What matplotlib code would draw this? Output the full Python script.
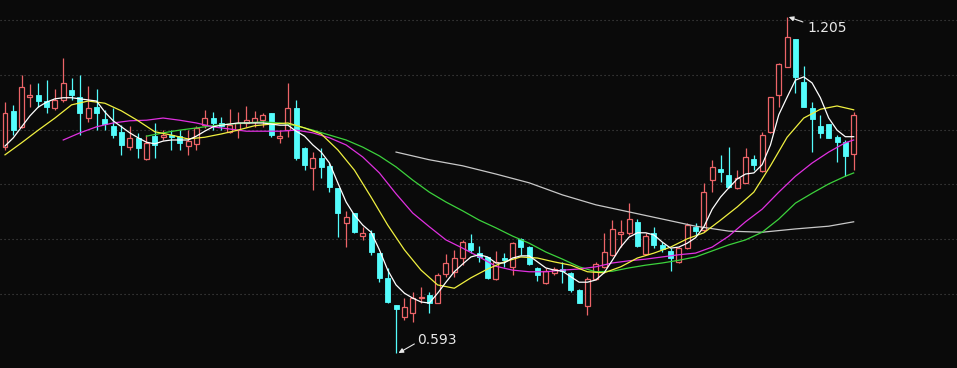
import matplotlib
matplotlib.use('Agg')
import matplotlib.pyplot as plt
from matplotlib.patches import Rectangle

opens = [0.968, 1.034, 1.005, 1.059, 1.063, 1.052, 1.039, 1.054, 1.072, 1.059,
         1.021, 1.041, 1.019, 1.007, 0.996, 0.968, 0.985, 0.946, 0.988, 0.987,
         0.990, 0.988, 0.970, 0.974, 1.008, 1.021, 1.012, 0.996, 0.999, 1.012,
         1.014, 1.017, 1.030, 0.985, 0.999, 1.039, 0.966, 0.930, 0.948, 0.934,
         0.894, 0.830, 0.848, 0.806, 0.812, 0.775, 0.730, 0.681, 0.659, 0.666,
         0.693, 0.699, 0.684, 0.737, 0.741, 0.766, 0.793, 0.775, 0.768, 0.728,
         0.766, 0.750, 0.801, 0.786, 0.748, 0.721, 0.739, 0.746, 0.739, 0.708,
         0.679, 0.728, 0.750, 0.772, 0.810, 0.812, 0.832, 0.773, 0.812, 0.790,
         0.779, 0.759, 0.784, 0.823, 0.817, 0.908, 0.928, 0.917, 0.894, 0.903,
         0.946, 0.925, 0.996, 1.063, 1.114, 1.165, 1.087, 1.039, 1.007, 1.010,
         0.987, 0.977, 0.955]
highs = [1.050, 1.045, 1.099, 1.083, 1.085, 1.090, 1.074, 1.130, 1.094, 1.099,
         1.079, 1.074, 1.036, 1.039, 1.008, 1.007, 0.994, 0.990, 1.012, 0.999,
         0.999, 0.999, 0.999, 1.007, 1.036, 1.032, 1.023, 1.038, 1.032, 1.043,
         1.034, 1.030, 1.030, 0.999, 1.085, 1.054, 0.968, 0.959, 0.966, 0.939,
         0.894, 0.852, 0.848, 0.823, 0.817, 0.775, 0.748, 0.681, 0.693, 0.704,
         0.713, 0.704, 0.739, 0.773, 0.781, 0.799, 0.810, 0.788, 0.768, 0.779,
         0.775, 0.795, 0.803, 0.788, 0.750, 0.748, 0.750, 0.759, 0.741, 0.710,
         0.732, 0.759, 0.812, 0.835, 0.835, 0.866, 0.837, 0.812, 0.823, 0.795,
         0.784, 0.786, 0.830, 0.830, 0.903, 0.945, 0.954, 0.968, 0.926, 0.966,
         0.954, 0.996, 1.059, 1.121, 1.205, 1.165, 1.116, 1.050, 1.027, 1.010,
         0.990, 0.981, 1.032]
lows = [0.963, 0.990, 1.003, 1.041, 1.041, 1.030, 1.036, 1.050, 1.054, 0.990,
        1.014, 0.999, 0.999, 0.985, 0.954, 0.963, 0.948, 0.945, 0.948, 0.981,
        0.963, 0.963, 0.954, 0.963, 1.003, 0.999, 0.999, 0.994, 0.985, 1.005,
        1.005, 1.005, 0.987, 0.976, 0.987, 0.945, 0.926, 0.890, 0.912, 0.886,
        0.804, 0.786, 0.812, 0.799, 0.772, 0.722, 0.684, 0.593, 0.653, 0.650,
        0.684, 0.666, 0.684, 0.732, 0.732, 0.753, 0.775, 0.759, 0.728, 0.726,
        0.750, 0.735, 0.772, 0.753, 0.724, 0.719, 0.735, 0.721, 0.704, 0.684,
        0.662, 0.726, 0.748, 0.770, 0.786, 0.808, 0.786, 0.772, 0.784, 0.777,
        0.742, 0.757, 0.782, 0.808, 0.813, 0.886, 0.905, 0.894, 0.892, 0.903,
        0.926, 0.923, 0.994, 1.041, 1.114, 1.067, 1.041, 0.959, 0.985, 0.985,
        0.941, 0.915, 0.926]
closes = [1.030, 0.999, 1.078, 1.063, 1.052, 1.041, 1.054, 1.085, 1.063, 1.030,
          1.039, 1.030, 1.010, 0.990, 0.972, 0.985, 0.966, 0.976, 0.972, 0.990,
          0.987, 0.976, 0.979, 1.003, 1.021, 1.012, 1.007, 1.008, 1.012, 1.017,
          1.021, 1.027, 0.990, 0.988, 1.039, 0.948, 0.936, 0.948, 0.932, 0.895,
          0.848, 0.841, 0.813, 0.812, 0.777, 0.730, 0.686, 0.673, 0.677, 0.693,
          0.695, 0.684, 0.735, 0.757, 0.766, 0.795, 0.781, 0.768, 0.730, 0.759,
          0.762, 0.793, 0.786, 0.755, 0.735, 0.742, 0.746, 0.742, 0.708, 0.684,
          0.728, 0.755, 0.777, 0.819, 0.813, 0.837, 0.788, 0.806, 0.790, 0.782,
          0.766, 0.784, 0.826, 0.815, 0.886, 0.932, 0.923, 0.895, 0.912, 0.950,
          0.936, 0.990, 1.059, 1.119, 1.169, 1.096, 1.041, 1.019, 0.994, 0.985,
          0.977, 0.952, 1.027]

# moving-average lines
ma5_idx = list(range(0, 103))
ma5 = [0.970, 0.985, 1.005, 1.025, 1.041, 1.050, 1.056, 1.058, 1.058, 1.056,
       1.054, 1.052, 1.032, 1.016, 1.005, 0.994, 0.985, 0.977, 0.974, 0.979,
       0.981, 0.981, 0.981, 0.988, 0.997, 1.005, 1.008, 1.010, 1.012, 1.012,
       1.012, 1.012, 1.010, 1.008, 1.008, 0.997, 0.988, 0.972, 0.959, 0.939,
       0.903, 0.868, 0.844, 0.826, 0.813, 0.781, 0.744, 0.717, 0.702, 0.693,
       0.686, 0.684, 0.702, 0.722, 0.741, 0.755, 0.768, 0.772, 0.768, 0.757,
       0.757, 0.766, 0.770, 0.770, 0.759, 0.748, 0.744, 0.742, 0.732, 0.722,
       0.722, 0.726, 0.739, 0.762, 0.786, 0.804, 0.812, 0.812, 0.808, 0.795,
       0.784, 0.786, 0.793, 0.803, 0.823, 0.855, 0.877, 0.894, 0.910, 0.919,
       0.921, 0.936, 0.972, 1.027, 1.059, 1.090, 1.096, 1.085, 1.058, 1.021,
       0.999, 0.987, 0.987]
ma10_idx = list(range(0, 103, 2))
ma10 = [0.954, 0.976, 0.999, 1.021, 1.045, 1.052, 1.048, 1.034, 1.016, 0.996,
        0.990, 0.983, 0.986, 0.992, 0.999, 1.007, 1.010, 1.012, 1.003, 0.992,
        0.963, 0.926, 0.877, 0.826, 0.781, 0.744, 0.717, 0.711, 0.730, 0.746,
        0.759, 0.768, 0.766, 0.759, 0.753, 0.741, 0.739, 0.750, 0.766, 0.775,
        0.786, 0.801, 0.812, 0.835, 0.859, 0.886, 0.934, 0.986, 1.021, 1.037,
        1.043, 1.036]
ma20_idx = list(range(7, 102, 2)) + [102]
ma20 = [0.981, 0.994, 1.005, 1.012, 1.016, 1.017, 1.021, 1.017, 1.012, 1.005,
        1.001, 0.997, 0.997, 0.997, 0.999, 0.994, 0.985, 0.972, 0.950, 0.921,
        0.883, 0.848, 0.823, 0.799, 0.784, 0.768, 0.751, 0.744, 0.741, 0.741,
        0.744, 0.746, 0.750, 0.757, 0.761, 0.764, 0.768, 0.772, 0.775, 0.786,
        0.806, 0.832, 0.855, 0.886, 0.915, 0.939, 0.959, 0.976, 0.981]
ma30_idx = list(range(17, 102, 2)) + [102]
ma30 = [0.988, 0.994, 0.999, 1.003, 1.007, 1.010, 1.012, 1.014, 1.012, 1.007,
        0.999, 0.990, 0.981, 0.968, 0.952, 0.932, 0.908, 0.886, 0.868, 0.852,
        0.835, 0.821, 0.806, 0.793, 0.777, 0.764, 0.750, 0.741, 0.742, 0.748,
        0.753, 0.757, 0.762, 0.768, 0.779, 0.790, 0.799, 0.813, 0.837, 0.866,
        0.884, 0.901, 0.915, 0.921]
ma60_idx = list(range(47, 100, 4)) + [102]
ma60 = [0.959, 0.945, 0.934, 0.919, 0.903, 0.881, 0.863, 0.850, 0.837, 0.824,
        0.815, 0.813, 0.819, 0.824, 0.832]

grid_levels = [0.7, 0.8, 0.9, 1.0, 1.1, 1.2]
hi_label = "1.205"
lo_label = "0.593"

BG = '#0a0a0a'
UP = '#ec6468'
DOWN = '#54fcfc'

fig = plt.figure(figsize=(9.57, 3.68), dpi=100, facecolor=BG)
ax = fig.add_axes([0, 0, 1, 1])
ax.set_facecolor(BG)
for s in ax.spines.values():
    s.set_visible(False)
ax.set_xticks([])
ax.set_yticks([])

for g in grid_levels:
    ax.axhline(g, color='#4a4a4a', lw=0.8, ls=(0, (1, 2.6)), zorder=0)

w = 0.6
for i, (o, h, l, c) in enumerate(zip(opens, highs, lows, closes)):
    top, bot = max(o, c), min(o, c)
    if c >= o:
        ax.vlines(i, top, h, color=UP, lw=0.9, zorder=2)
        ax.vlines(i, l, bot, color=UP, lw=0.9, zorder=2)
        ax.add_patch(Rectangle((i - w / 2, bot), w, max(top - bot, 0.0015),
                               facecolor=BG, edgecolor=UP, lw=0.9, zorder=3))
    else:
        ax.vlines(i, l, h, color=DOWN, lw=0.9, zorder=2)
        ax.add_patch(Rectangle((i - w / 2, bot), w, max(top - bot, 0.0015),
                               facecolor=DOWN, edgecolor=DOWN, lw=0.6, zorder=3))

ax.plot(ma60_idx, ma60, color='#c8c8c8', lw=0.9, zorder=4)
ax.plot(ma30_idx, ma30, color='#3cd23c', lw=0.9, zorder=4)
ax.plot(ma20_idx, ma20, color='#e030e0', lw=0.9, zorder=4)
ax.plot(ma10_idx, ma10, color='#f0f040', lw=0.9, zorder=4)
ax.plot(ma5_idx, ma5, color='#ffffff', lw=0.9, zorder=5)

hi_i = highs.index(max(highs))
lo_i = lows.index(min(lows))
ax.annotate('', xy=(hi_i + 0.2, max(highs)), xytext=(hi_i + 1.9, 1.196),
            arrowprops=dict(arrowstyle='-|>', color='#e8e8e8', lw=0.8,
                            mutation_scale=7, shrinkA=0, shrinkB=0), zorder=6)
ax.text(hi_i + 2.5, 1.185, hi_label, color='#e8e8e8', fontsize=10,
        va='center', ha='left', zorder=6)
ax.annotate('', xy=(lo_i + 0.3, min(lows)), xytext=(lo_i + 2.2, 0.6095),
            arrowprops=dict(arrowstyle='-|>', color='#e8e8e8', lw=0.8,
                            mutation_scale=7, shrinkA=0, shrinkB=0), zorder=6)
ax.text(lo_i + 2.5, 0.617, lo_label, color='#e8e8e8', fontsize=10,
        va='center', ha='left', zorder=6)

ax.set_xlim(-0.601, 114.42)
ax.set_ylim(0.5657, 1.2360)

fig.savefig('out.png', dpi=100, facecolor=BG)
